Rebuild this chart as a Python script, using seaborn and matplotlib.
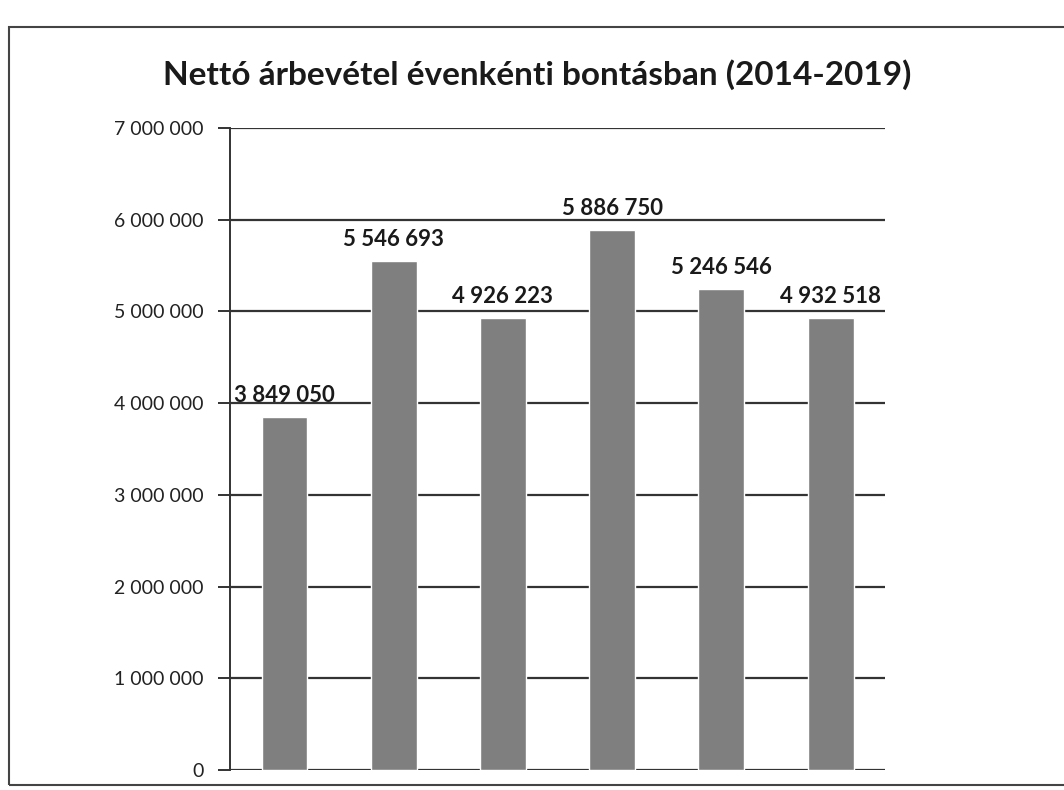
import pandas as pd
import seaborn as sns
import matplotlib.pyplot as plt
from matplotlib.patches import Rectangle

years = ['2014', '2015', '2016', '2017', '2018', '2019']
revenue = [3849050, 5546693, 4926223, 5886750, 5246546, 4932518]
yticks = [0, 1000000, 2000000, 3000000, 4000000, 5000000, 6000000, 7000000]

df = pd.DataFrame({'Year': years, 'Revenue': revenue})


def hu_fmt(v):
    # space as thousands separator
    return f'{int(v):,}'.replace(',', ' ')


sns.set_style('white')
plt.rcParams['font.family'] = ['Lato', 'DejaVu Sans']

fig = plt.figure(figsize=(10.64, 7.90), dpi=100)
ax = fig.add_axes([0.216, 0.025, 0.616, 0.813])

sns.barplot(data=df, x='Year', y='Revenue', color='#7f7f7f', width=0.42,
            saturation=1, ax=ax, zorder=3)

ax.set_ylim(0, 7000000)
ax.set_yticks(yticks)
ax.set_yticklabels([hu_fmt(v) for v in yticks], fontsize=14, color='#222222')
ax.set_xticks([])
ax.set_xlabel('')
ax.set_ylabel('')
ax.grid(axis='y', color='#333333', linewidth=1.6, zorder=0)
ax.tick_params(axis='y', length=9, width=1.4, color='#333333', direction='out',
               left=True, pad=10)

for s in ['top', 'right', 'bottom']:
    ax.spines[s].set_visible(False)
ax.spines['left'].set_color('#333333')
ax.spines['left'].set_linewidth(1.4)

# value labels above bars
for i, v in enumerate(revenue):
    ax.text(i, v + 120000, hu_fmt(v), ha='center', va='bottom',
            fontsize=16, fontweight='bold', color='#1a1a1a')

fig.text(0.505, 0.905, 'Nettó árbevétel évenkénti bontásban (2014-2019)',
         ha='center', va='center', fontsize=24, fontweight='bold', color='#1a1a1a')

# outer chart frame
fig.patches.append(Rectangle((0.008, 0.006), 1.0, 0.96, transform=fig.transFigure,
                             fill=False, edgecolor='#444444', linewidth=1.5))

fig.savefig('out.png', dpi=100)
